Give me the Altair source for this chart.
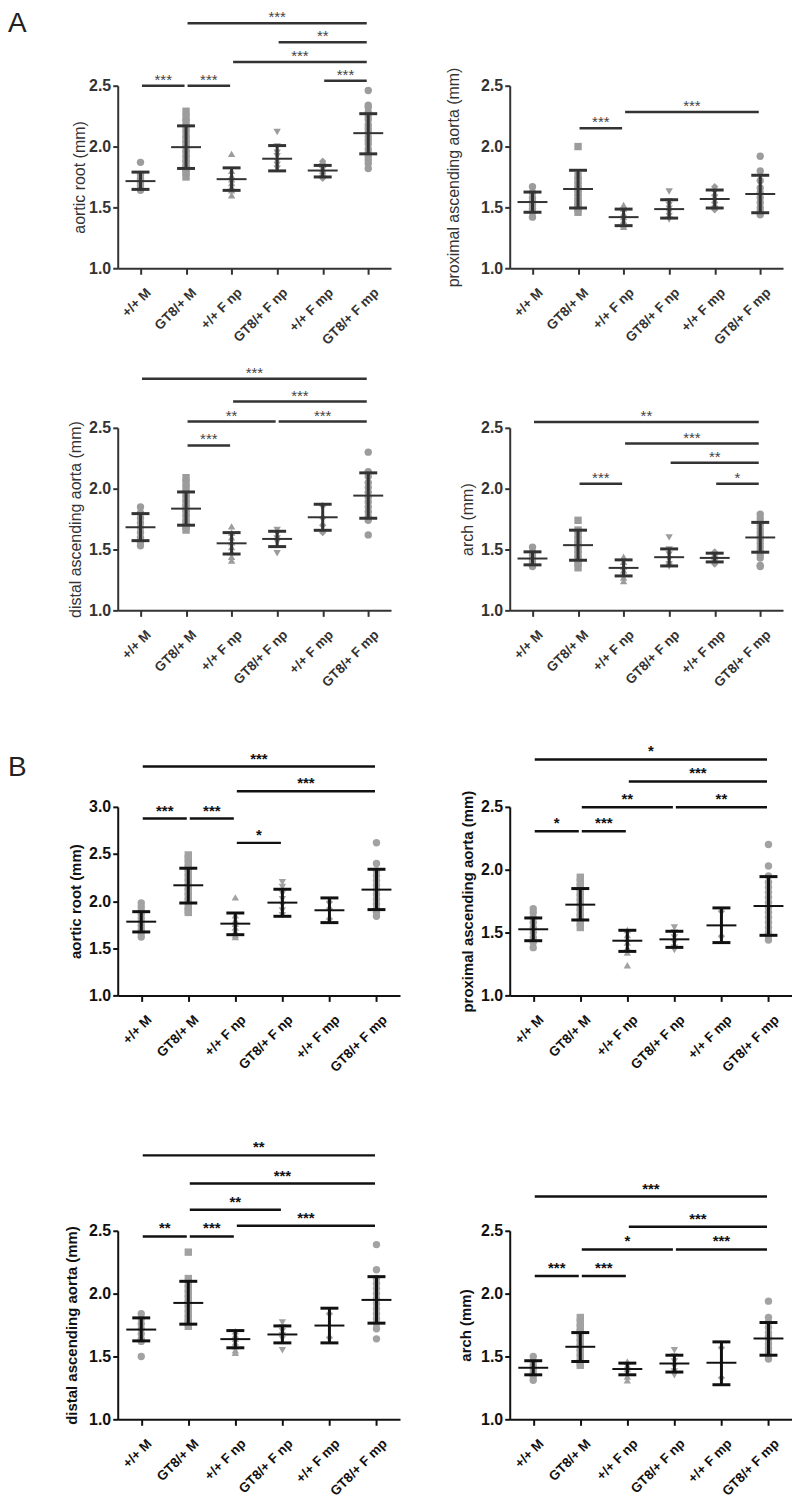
import json
import altair as alt
import pandas as pd

categories = ["+/+ M", "GT8/+ M", "+/+ F np", "GT8/+ F np", "+/+ F mp", "GT8/+ F mp"]
shapes = ["circle", "square", "triangle-up", "triangle-down", "diamond", "circle"]

# ---------------- A: aortic root ----------------
a_root_points = [
    [1.87, 1.77, 1.74, 1.72, 1.70, 1.68, 1.66, 1.64],
    [2.29, 2.24, 2.20, 2.15, 2.10, 2.06, 2.02, 1.98, 1.94, 1.90, 1.86, 1.82, 1.79, 1.75],
    [1.94, 1.80, 1.76, 1.73, 1.70, 1.67, 1.64, 1.60],
    [2.12, 2.00, 1.95, 1.92, 1.88, 1.85, 1.82],
    [1.88, 1.86, 1.83, 1.80, 1.78, 1.76, 1.74],
    [2.46, 2.34, 2.32, 2.28, 2.25, 2.22, 2.18, 2.15, 2.12, 2.08, 2.05, 2.02, 1.98, 1.95, 1.92, 1.89, 1.86, 1.82],
]
a_root_mean = [1.716, 1.995, 1.732, 1.90, 1.803, 2.11]
a_root_upper = [1.79, 2.17, 1.825, 2.008, 1.845, 2.27]
a_root_lower = [1.648, 1.82, 1.64, 1.80, 1.75, 1.94]
a_root_sig_from = [0, 1, 4, 2, 3, 1]
a_root_sig_to = [1, 2, 5, 5, 5, 5]
a_root_sig_level = [2.50, 2.50, 2.54, 2.694, 2.858, 3.014]
a_root_sig_text = ["***", "***", "***", "***", "**", "***"]

# ---------------- A: proximal ascending aorta ----------------
a_prox_points = [
    [1.67, 1.62, 1.58, 1.55, 1.52, 1.49, 1.46, 1.42],
    [2.00, 1.76, 1.72, 1.68, 1.65, 1.62, 1.58, 1.55, 1.52, 1.49, 1.46],
    [1.52, 1.49, 1.45, 1.42, 1.39, 1.36, 1.34],
    [1.63, 1.55, 1.52, 1.49, 1.46, 1.43, 1.40],
    [1.67, 1.64, 1.60, 1.57, 1.54, 1.51, 1.48],
    [1.92, 1.80, 1.72, 1.66, 1.62, 1.58, 1.54, 1.50, 1.47, 1.44],
]
a_prox_mean = [1.544, 1.651, 1.42, 1.486, 1.569, 1.61]
a_prox_upper = [1.626, 1.805, 1.486, 1.563, 1.643, 1.764]
a_prox_lower = [1.46, 1.495, 1.35, 1.412, 1.495, 1.456]
a_prox_sig_from = [1, 2]
a_prox_sig_to = [2, 5]
a_prox_sig_level = [2.151, 2.283]
a_prox_sig_text = ["***", "***"]

# ---------------- A: distal ascending aorta ----------------
a_dist_points = [
    [1.85, 1.80, 1.76, 1.72, 1.68, 1.64, 1.60, 1.56, 1.53],
    [2.09, 2.05, 2.00, 1.96, 1.92, 1.88, 1.84, 1.80, 1.76, 1.72, 1.69, 1.66],
    [1.69, 1.64, 1.60, 1.56, 1.52, 1.48, 1.44, 1.41],
    [1.66, 1.63, 1.59, 1.56, 1.47],
    [1.86, 1.76, 1.70, 1.64],
    [2.30, 2.14, 2.10, 2.05, 2.01, 1.97, 1.93, 1.89, 1.85, 1.81, 1.77, 1.74, 1.62],
]
a_dist_mean = [1.683, 1.836, 1.551, 1.587, 1.765, 1.943]
a_dist_upper = [1.795, 1.973, 1.639, 1.65, 1.872, 2.13]
a_dist_lower = [1.573, 1.70, 1.463, 1.524, 1.658, 1.757]
a_dist_sig_from = [1, 1, 3, 2, 0]
a_dist_sig_to = [2, 3, 5, 5, 5]
a_dist_sig_level = [2.355, 2.552, 2.552, 2.716, 2.903]
a_dist_sig_text = ["***", "**", "***", "***", "***"]

# ---------------- A: arch ----------------
a_arch_points = [
    [1.52, 1.48, 1.45, 1.42, 1.40, 1.38, 1.36],
    [1.74, 1.66, 1.62, 1.58, 1.54, 1.50, 1.46, 1.42, 1.39, 1.35],
    [1.44, 1.40, 1.36, 1.33, 1.30, 1.27, 1.24],
    [1.60, 1.50, 1.46, 1.42, 1.38, 1.36],
    [1.48, 1.46, 1.44, 1.42, 1.40, 1.38],
    [1.79, 1.76, 1.73, 1.70, 1.67, 1.64, 1.61, 1.58, 1.55, 1.52, 1.49, 1.46, 1.43, 1.37, 1.36],
]
a_arch_mean = [1.426, 1.536, 1.349, 1.437, 1.431, 1.599]
a_arch_upper = [1.481, 1.659, 1.415, 1.505, 1.47, 1.723]
a_arch_lower = [1.374, 1.412, 1.283, 1.365, 1.398, 1.478]
a_arch_sig_from = [1, 4, 3, 2, 0]
a_arch_sig_to = [2, 5, 5, 5, 5]
a_arch_sig_level = [2.041, 2.041, 2.214, 2.371, 2.547]
a_arch_sig_text = ["***", "*", "**", "***", "**"]

# ---------------- B: aortic root ----------------
b_root_points = [
    [1.98, 1.94, 1.90, 1.86, 1.82, 1.78, 1.74, 1.70, 1.66, 1.62],
    [2.49, 2.45, 2.40, 2.35, 2.30, 2.25, 2.20, 2.15, 2.10, 2.05, 2.00, 1.95, 1.90, 1.88],
    [2.04, 1.85, 1.80, 1.76, 1.72, 1.68, 1.64, 1.62],
    [2.20, 2.15, 2.08, 2.02, 1.96, 1.90, 1.85],
    [1.99, 1.92, 1.81],
    [2.62, 2.40, 2.32, 2.27, 2.22, 2.17, 2.12, 2.07, 2.02, 1.97, 1.92, 1.88, 1.84],
]
b_root_mean = [1.782, 2.168, 1.761, 1.984, 1.903, 2.122]
b_root_upper = [1.888, 2.349, 1.874, 2.126, 2.034, 2.338]
b_root_lower = [1.673, 1.98, 1.644, 1.839, 1.772, 1.91]
b_root_sig_from = [0, 1, 2, 2, 0]
b_root_sig_to = [1, 2, 3, 5, 5]
b_root_sig_level = [2.876, 2.876, 2.618, 3.166, 3.428]
b_root_sig_text = ["***", "***", "*", "***", "***"]

# ---------------- B: proximal ascending aorta ----------------
b_prox_points = [
    [1.69, 1.66, 1.62, 1.58, 1.54, 1.50, 1.46, 1.42, 1.38],
    [1.94, 1.90, 1.86, 1.82, 1.78, 1.74, 1.70, 1.66, 1.62, 1.58, 1.54],
    [1.52, 1.48, 1.45, 1.42, 1.38, 1.34, 1.24],
    [1.54, 1.50, 1.46, 1.42, 1.38, 1.36],
    [1.67, 1.47],
    [2.20, 2.03, 1.95, 1.90, 1.86, 1.82, 1.78, 1.74, 1.70, 1.66, 1.62, 1.58, 1.54, 1.50, 1.47, 1.44],
]
b_prox_mean = [1.526, 1.722, 1.435, 1.446, 1.557, 1.711]
b_prox_upper = [1.616, 1.85, 1.518, 1.51, 1.696, 1.945]
b_prox_lower = [1.435, 1.60, 1.35, 1.382, 1.42, 1.478]
b_prox_sig_from = [0, 1, 1, 3, 2, 0]
b_prox_sig_to = [1, 2, 3, 5, 5, 5]
b_prox_sig_level = [2.306, 2.306, 2.497, 2.497, 2.702, 2.877]
b_prox_sig_text = ["*", "***", "**", "**", "***", "*"]

# ---------------- B: distal ascending aorta ----------------
b_dist_points = [
    [1.84, 1.80, 1.76, 1.72, 1.68, 1.64, 1.62, 1.50],
    [2.33, 2.12, 2.08, 2.04, 2.00, 1.96, 1.92, 1.88, 1.84, 1.80, 1.77, 1.74],
    [1.70, 1.67, 1.64, 1.61, 1.58, 1.55, 1.53],
    [1.77, 1.73, 1.70, 1.67, 1.64, 1.55],
    [1.84, 1.65],
    [2.39, 2.19, 2.12, 2.08, 2.04, 2.00, 1.96, 1.92, 1.88, 1.84, 1.80, 1.76, 1.72, 1.64],
]
b_dist_mean = [1.714, 1.926, 1.638, 1.675, 1.746, 1.95]
b_dist_upper = [1.807, 2.098, 1.706, 1.743, 1.884, 2.135]
b_dist_lower = [1.624, 1.757, 1.569, 1.608, 1.608, 1.765]
b_dist_sig_from = [0, 1, 2, 1, 1, 0]
b_dist_sig_to = [1, 2, 5, 3, 5, 5]
b_dist_sig_level = [2.455, 2.455, 2.54, 2.667, 2.876, 3.10]
b_dist_sig_text = ["**", "***", "***", "**", "***", "**"]

# ---------------- B: arch ----------------
b_arch_points = [
    [1.50, 1.46, 1.43, 1.40, 1.37, 1.34, 1.31],
    [1.81, 1.77, 1.73, 1.69, 1.65, 1.61, 1.57, 1.53, 1.49, 1.45, 1.43],
    [1.46, 1.43, 1.40, 1.37, 1.34, 1.31],
    [1.55, 1.50, 1.46, 1.42, 1.38, 1.35],
    [1.57, 1.33],
    [1.94, 1.81, 1.77, 1.73, 1.69, 1.66, 1.63, 1.60, 1.57, 1.54, 1.51, 1.48],
]
b_arch_mean = [1.41, 1.577, 1.40, 1.444, 1.45, 1.643]
b_arch_upper = [1.466, 1.69, 1.447, 1.51, 1.616, 1.77]
b_arch_lower = [1.354, 1.46, 1.354, 1.376, 1.275, 1.51]
b_arch_sig_from = [0, 1, 1, 3, 2, 0]
b_arch_sig_to = [1, 2, 3, 5, 5, 5]
b_arch_sig_level = [2.14, 2.14, 2.352, 2.352, 2.532, 2.772]
b_arch_sig_text = ["***", "***", "*", "***", "***", "***"]

FONT = "Liberation Sans"
LABEL_EXPR = json.dumps(categories) + "[datum.value]"

STYLE_A = dict(dark="#333333", point="#9c9c9c", star="#444444", title_weight="normal",
               title_size=16, star_dy=-1, star_weight="normal")
STYLE_B = dict(dark="#111111", point="#a2a2a2", star="#111111", title_weight="bold",
               title_size=15, star_dy=-3, star_weight="bold")


def panel(points, mean, upper, lower, s_from, s_to, s_level, s_text, ytitle,
          ymax, width, plot_h, top, style, title_pad, letter=None, letter_xy=(0, 0)):
    dark = style["dark"]
    total_h = top + plot_h
    ticks = [1.0, 1.5, 2.0, 2.5] + ([3.0] if ymax > 2.5 else [])
    xscale = alt.Scale(domain=[-0.5, 5.5], nice=False, zero=False)
    yscale = alt.Scale(domain=[1.0, ymax], range=[total_h, top], nice=False, zero=False)
    xaxis = alt.Axis(values=list(range(6)), labelExpr=LABEL_EXPR, title=None, grid=False,
                     labelAngle=-45, labelAlign="right", labelBaseline="top",
                     labelFontSize=13.5, labelFontWeight="bold", labelColor=dark,
                     labelPadding=11, labelOffset=3, labelFlush=False, labelOverlap=False,
                     tickSize=6, tickWidth=2, tickColor=dark,
                     domainColor=dark, domainWidth=2, labelFont=FONT)
    yaxis = alt.Axis(values=ticks, format=".1f", title=ytitle, grid=False,
                     titleFontSize=style["title_size"], titleFontWeight=style["title_weight"],
                     titleColor=dark, titlePadding=title_pad, titleFont=FONT,
                     labelFontSize=16, labelFontWeight="bold", labelColor=dark,
                     labelPadding=2, labelFlush=False, labelFont=FONT,
                     tickSize=5, tickWidth=2, tickColor=dark,
                     domainColor=dark, domainWidth=2)

    def X(f):
        return alt.X(f"{f}:Q", scale=xscale, axis=xaxis)

    def Y(f):
        return alt.Y(f"{f}:Q", scale=yscale, axis=yaxis)

    pts = pd.DataFrame([{"g": i, "cat": categories[i], "v": v}
                        for i, grp in enumerate(points) for v in grp])
    stats = pd.DataFrame({"g": list(range(6)), "m": mean, "hi": upper, "lo": lower})
    sig = pd.DataFrame({"a": s_from, "b": s_to, "lev": s_level, "txt": s_text})

    layer_pts = alt.Chart(pts).mark_point(filled=True, size=55, opacity=1,
                                          color=style["point"]).encode(
        x=X("g"), y=Y("v"),
        shape=alt.Shape("cat:N", scale=alt.Scale(domain=categories, range=shapes), legend=None))
    layer_err = alt.Chart(stats).mark_rule(strokeWidth=3, color=dark).encode(
        x=X("g"), y=Y("lo"), y2="hi")
    layer_cap_hi = alt.Chart(stats).mark_rule(strokeWidth=3, color=dark, xOffset=-9,
                                              x2Offset=9).encode(x=X("g"), x2="g", y=Y("hi"))
    layer_cap_lo = alt.Chart(stats).mark_rule(strokeWidth=3, color=dark, xOffset=-9,
                                              x2Offset=9).encode(x=X("g"), x2="g", y=Y("lo"))
    layer_mean = alt.Chart(stats).mark_rule(strokeWidth=2, color=dark, xOffset=-15,
                                            x2Offset=15).encode(x=X("g"), x2="g", y=Y("m"))
    layer_sig = alt.Chart(sig).mark_rule(strokeWidth=2.5, color=dark, xOffset=1.5,
                                         x2Offset=-1.5, strokeCap="butt").encode(
        x=X("a"), x2="b", y=Y("lev"))
    layer_star = alt.Chart(sig).transform_calculate(mid="(datum.a + datum.b) / 2").mark_text(
        fontSize=15, baseline="alphabetic", dy=style["star_dy"], color=style["star"],
        fontWeight=style["star_weight"], font=FONT).encode(
        x=X("mid"), y=Y("lev"), text="txt:N")
    layers = [layer_pts, layer_err, layer_cap_hi, layer_cap_lo, layer_mean, layer_sig, layer_star]
    if letter:
        lt = alt.Chart(pd.DataFrame({"t": [letter]})).mark_text(
            align="left", baseline="top", fontSize=28, font=FONT, color="#222222").encode(
            x=alt.value(letter_xy[0]), y=alt.value(letter_xy[1]), text="t:N")
        layers.append(lt)
    return alt.layer(*layers).properties(width=width, height=total_h)


WA, HA = 274, 183
WB, HB = 283, 189
T1, T2, T3, T4 = 76, 70, 107, 146

A1 = panel(a_root_points, a_root_mean, a_root_upper, a_root_lower, a_root_sig_from,
           a_root_sig_to, a_root_sig_level, a_root_sig_text, "aortic root (mm)", 2.5,
           WA, HA, T1, STYLE_A, 1, letter="A", letter_xy=(-110, 0))
A2 = panel(a_prox_points, a_prox_mean, a_prox_upper, a_prox_lower, a_prox_sig_from,
           a_prox_sig_to, a_prox_sig_level, a_prox_sig_text, "proximal ascending aorta (mm)",
           2.5, WA, HA, T1, STYLE_A, 19)
A3 = panel(a_dist_points, a_dist_mean, a_dist_upper, a_dist_lower, a_dist_sig_from,
           a_dist_sig_to, a_dist_sig_level, a_dist_sig_text, "distal ascending aorta (mm)",
           2.5, WA, HA, T2, STYLE_A, 5)
A4 = panel(a_arch_points, a_arch_mean, a_arch_upper, a_arch_lower, a_arch_sig_from,
           a_arch_sig_to, a_arch_sig_level, a_arch_sig_text, "arch (mm)",
           2.5, WA, HA, T2, STYLE_A, 5)
B1 = panel(b_root_points, b_root_mean, b_root_upper, b_root_lower, b_root_sig_from,
           b_root_sig_to, b_root_sig_level, b_root_sig_text, "aortic root (mm)", 3.0,
           WB, HB, T3, STYLE_B, 5, letter="B", letter_xy=(-110, T3 - 53))
B2 = panel(b_prox_points, b_prox_mean, b_prox_upper, b_prox_lower, b_prox_sig_from,
           b_prox_sig_to, b_prox_sig_level, b_prox_sig_text, "proximal ascending aorta (mm)",
           2.5, WB, HB, T3, STYLE_B, 5)
B3 = panel(b_dist_points, b_dist_mean, b_dist_upper, b_dist_lower, b_dist_sig_from,
           b_dist_sig_to, b_dist_sig_level, b_dist_sig_text, "distal ascending aorta (mm)",
           2.5, WB, HB, T4, STYLE_B, 9)
B4 = panel(b_arch_points, b_arch_mean, b_arch_upper, b_arch_lower, b_arch_sig_from,
           b_arch_sig_to, b_arch_sig_level, b_arch_sig_text, "arch (mm)",
           2.5, WB, HB, T4, STYLE_B, 7)

chart = alt.concat(A1, A2, A3, A4, B1, B2, B3, B4, columns=2,
                   spacing={"row": 90, "column": 110}, bounds="flush").properties(
    padding=0
).configure(font=FONT).configure_view(stroke=None)

chart.save("out.html", embed_options={"renderer": "svg", "actions": False})
